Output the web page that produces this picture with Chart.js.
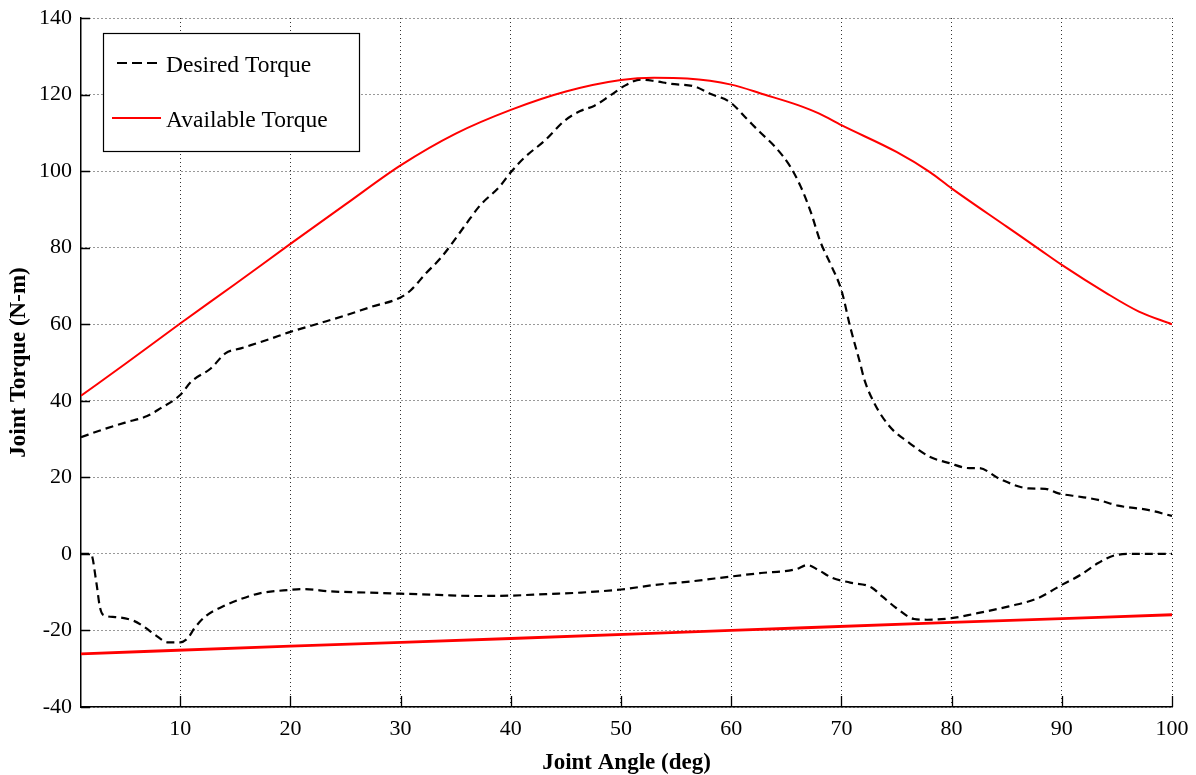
<!DOCTYPE html>
<html>
<head>
<meta charset="utf-8">
<script src="https://cdn.jsdelivr.net/npm/chart.js@4/dist/chart.umd.min.js"></script>
<style>
html,body{margin:0;padding:0;background:#fff;}
#wrap{width:1196px;height:775px;}
</style>
</head>
<body>
<div id="wrap"><canvas id="c" width="1196" height="775"></canvas></div>
<script>
// ---- data ----
const xTickValues = [10,20,30,40,50,60,70,80,90,100];
const yTickValues = [-40,-20,0,20,40,60,80,100,120,140];
const legendLabels = ['Desired Torque','Available Torque'];
const xAxisTitle = 'Joint Angle (deg)';
const yAxisTitle = 'Joint Torque (N-m)';

// Desired torque, upper branch
const desiredUpperAngle  = [1,3,5,7,8.2,10,11,12.8,14.1,15.5,18,20,22.7,25,27.3,30,30.9,32.3,33.7,35.9,37.2,39,40,41.3,43.1,44.9,46.3,47.6,49,50.4,51.8,53.1,54.5,56.7,58.1,59.9,61.3,62.6,64,65.4,66.3,67.2,68.1,69,70,70.8,71.7,72.1,73,74.4,76.2,78,79.8,81.6,82.5,84.3,87,88.5,89.7,91.5,93.3,95.1,97.8,100];
const desiredUpperTorque = [30.5,32.5,34.3,36,38,41.5,45,48.5,52.4,53.7,56,58,60.3,62.3,64.5,67,68.8,73.3,77.5,86,91,96,99.7,103.7,108,113.2,115.7,117.1,119.7,122.4,123.9,123.5,122.8,122.1,120.2,118,114,110.2,106.3,101,96,89.5,81.5,75.8,68.9,59.3,49.8,45.4,39.3,33.2,28.9,25.4,23.7,22.4,22.4,19.7,17.1,17,15.8,15,14.1,12.6,11.5,9.9];

// Desired torque, lower branch
const desiredLowerAngle  = [1,1.9,2.4,2.7,3.0,4.1,5.8,6.7,7.7,8.9,10,10.7,11.3,12.3,13.9,15.5,17.2,20,21.1,23.7,26.9,30,33.4,36.7,40,43.2,46.4,50,53.1,56.3,60,62.7,65.9,66.9,67.9,69.2,70.8,72.7,73.7,75,76.6,77.8,80,82,85.2,87.8,90,91.7,93.3,94.9,96.5,100];
const desiredLowerTorque = [0,0,-7.6,-13.7,-15.9,-16.5,-17.5,-19,-21.1,-23.1,-23.1,-22,-19.4,-16.3,-13.7,-11.8,-10.3,-9.4,-9.2,-9.8,-10.1,-10.4,-10.7,-11,-10.9,-10.5,-10.1,-9.3,-8.1,-7.2,-5.9,-5,-4,-2.9,-4.2,-6.3,-7.5,-8.7,-11.1,-14.2,-17,-17.2,-16.8,-15.7,-13.7,-11.6,-8.1,-5.5,-2.4,-0.3,0,0];

// Available torque, upper branch
const availUpperAngle  = [1,5,10,15,20,25,30,35,40,45,50,53,56,60,63,66,68,70,75,78,80,85,88,90,94,97,100];
const availUpperTorque = [41.3,49.6,60.2,70.5,81,91.3,101.5,109.8,116,120.8,123.8,124.4,124.2,122.6,120,117.3,115,112,105,99.8,95.5,85.5,79.5,75.5,68.2,63.3,60];

// Available torque, lower branch
const availLowerAngle  = [1,20,40,60,80,100];
const availLowerTorque = [-26.1,-24.1,-22.1,-20,-17.9,-15.9];

const toPts = (xs, ys) => xs.map((x, i) => ({x: x, y: ys[i]}));

const FONT = "'Liberation Serif','Times New Roman',serif";
const BLACK_DASH = [8,5];

const innerTicks = {
  id: 'innerTicks',
  afterDatasetsDraw(chart) {
    const {ctx, chartArea: a, scales: {x, y}} = chart;
    ctx.save();
    ctx.strokeStyle = '#000';
    ctx.lineWidth = 1.3;
    ctx.beginPath();
    xTickValues.forEach(v => {
      const px = Math.round(x.getPixelForValue(v)) + 0.5;
      ctx.moveTo(px, a.bottom); ctx.lineTo(px, a.bottom - 11);
    });
    yTickValues.forEach(v => {
      const py = Math.round(y.getPixelForValue(v)) + 0.5;
      ctx.moveTo(a.left, py); ctx.lineTo(a.left + 9, py);
    });
    ctx.stroke();
    ctx.restore();
  }
};

const boxLegend = {
  id: 'boxLegend',
  afterDraw(chart) {
    const {ctx, chartArea: a} = chart;
    const bx = a.left + 22, by = a.top + 15, bw = 256, bh = 118;
    ctx.save();
    ctx.fillStyle = '#fff';
    ctx.fillRect(bx, by, bw, bh);
    ctx.strokeStyle = '#000';
    ctx.lineWidth = 1.2;
    ctx.strokeRect(bx + 0.5, by + 0.5, bw, bh);
    ctx.beginPath();
    ctx.setLineDash([10,5]);
    ctx.lineWidth = 2;
    ctx.strokeStyle = '#000';
    ctx.moveTo(bx + 14, by + 30); ctx.lineTo(bx + 58, by + 30);
    ctx.stroke();
    ctx.beginPath();
    ctx.setLineDash([]);
    ctx.strokeStyle = '#ff0000';
    ctx.moveTo(bx + 9, by + 85); ctx.lineTo(bx + 58, by + 85);
    ctx.stroke();
    ctx.fillStyle = '#000';
    ctx.font = "23.5px " + FONT;
    ctx.textBaseline = 'middle';
    ctx.textAlign = 'left';
    ctx.fillText(legendLabels[0], bx + 63, by + 33);
    ctx.fillText(legendLabels[1], bx + 63, by + 88);
    ctx.restore();
  }
};

const datasets = [
  {label: legendLabels[1], data: toPts(availUpperAngle, availUpperTorque), borderColor: '#ff0000', borderWidth: 2},
  {label: legendLabels[1], data: toPts(availLowerAngle, availLowerTorque), borderColor: '#ff0000', borderWidth: 2.8},
  {label: legendLabels[0], data: toPts(desiredUpperAngle, desiredUpperTorque), borderColor: '#000', borderWidth: 2.2, borderDash: BLACK_DASH},
  {label: legendLabels[0], data: toPts(desiredLowerAngle, desiredLowerTorque), borderColor: '#000', borderWidth: 2.2, borderDash: BLACK_DASH}
].map(d => Object.assign({fill: false, pointRadius: 0, cubicInterpolationMode: 'monotone', borderJoinStyle: 'round'}, d));

new Chart(document.getElementById('c'), {
  type: 'line',
  data: {datasets: datasets},
  options: {
    responsive: false,
    animation: false,
    events: [],
    layout: {padding: {top: 18, right: 24, left: 0, bottom: 0}},
    plugins: {legend: {display: false}, tooltip: {enabled: false}},
    scales: {
      x: {
        type: 'linear', min: 1, max: 100,
        afterBuildTicks: ax => { ax.ticks = xTickValues.map(v => ({value: v})); },
        afterFit: ax => { ax.height = 68; ax.paddingLeft = 0; ax.paddingRight = 0; },
        grid: {color: '#333', lineWidth: 1, drawTicks: false},
        border: {display: true, color: '#000', width: 1.5, dash: [1,3]},
        ticks: {color: '#000', font: {family: FONT, size: 22, lineHeight: 1}, padding: 11, maxRotation: 0, autoSkip: false},
        title: {display: true, text: xAxisTitle, color: '#000', font: {family: FONT, size: 23, weight: 'bold', lineHeight: 1}, padding: {top: 0, bottom: 0}}
      },
      y: {
        type: 'linear', min: -40, max: 140,
        afterBuildTicks: ax => { ax.ticks = yTickValues.map(v => ({value: v})); },
        afterFit: ax => { ax.width = 81; ax.paddingTop = 0; ax.paddingBottom = 0; },
        grid: {color: '#333', lineWidth: 1, drawTicks: false},
        border: {display: true, color: '#000', width: 1.5, dash: [1,3]},
        ticks: {color: '#000', font: {family: FONT, size: 22, lineHeight: 1}, padding: 9},
        title: {display: true, text: yAxisTitle, color: '#000', font: {family: FONT, size: 23, weight: 'bold', lineHeight: 1}, padding: {top: 8, bottom: 0}}
      }
    }
  },
  plugins: [innerTicks, boxLegend]
});
</script>
</body>
</html>
